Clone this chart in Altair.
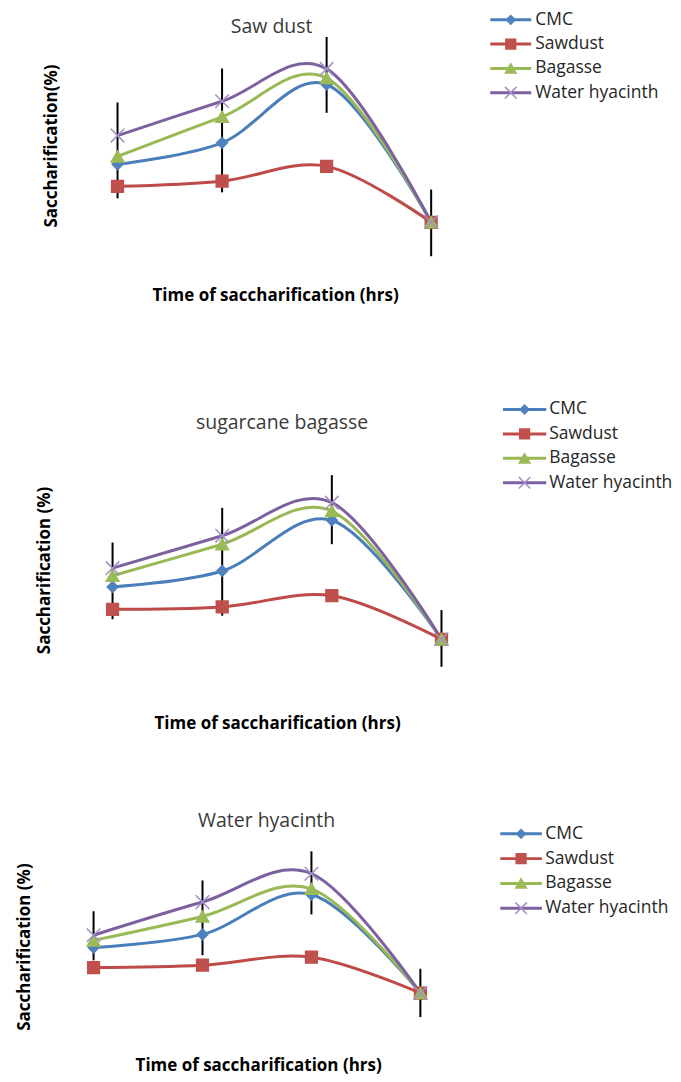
import altair as alt
import pandas as pd

FONT = "Open Sans"

SERIES = ["CMC", "Sawdust", "Bagasse", "Water hyacinth"]
LEGEND_ROWS = [0, 1, 2, 3]
LINE_COLORS = ["#4A7EBB", "#BE4B48", "#98B954", "#7D60A0"]
MARKER_FILLS = ["#4F81BD", "#C0504D", "#9BBB59", "#8064A2"]
MARKER_STROKES = ["#4F81BD", "#C0504D", "#9BBB59", "#A28FC7"]
X_MARK = "M-1,-1L1,1M-1,1L1,-1"
MARKER_SHAPES = ["diamond", "square", "triangle-up", X_MARK]
MARKER_SIZES = [115, 185, 135, 150]
LEGEND_SIZES = [75, 135, 100, 125]
SAMPLING_POINTS = [1, 2, 3, 4]

PANEL_TITLES = ["Saw dust", "sugarcane bagasse", "Water hyacinth"]
Y_TITLES = ["Saccharification(%)", "Saccharification (%)", "Saccharification (%)"]
X_TITLE = "Time of saccharification (hrs)"

# Panel 1: Saw dust
saw_cmc = [26.3, 31.7, 46.3, 11.8]
saw_sawdust = [20.8, 22.1, 25.8, 11.8]
saw_bagasse = [28.3, 38.2, 47.9, 11.8]
saw_hyacinth = [33.5, 42.1, 50.2, 11.8]
saw_err_low = [17.8, 19.3, 39.2, 3.3]
saw_err_high = [41.8, 50.3, 58.2, 20.0]

# Panel 2: sugarcane bagasse
bag_cmc = [21.0, 25.0, 37.7, 7.9]
bag_sawdust = [15.4, 16.0, 18.8, 7.9]
bag_bagasse = [23.8, 31.7, 40.0, 7.9]
bag_hyacinth = [25.7, 33.8, 42.1, 7.9]
bag_err_low = [12.9, 13.8, 31.7, 1.0]
bag_err_high = [32.1, 40.8, 49.0, 15.2]

# Panel 3: Water hyacinth
wh_cmc = [23.2, 26.5, 36.5, 11.8]
wh_sawdust = [18.2, 18.8, 20.8, 11.8]
wh_bagasse = [25.0, 31.0, 37.9, 11.8]
wh_hyacinth = [26.3, 34.6, 41.7, 11.8]
wh_err_low = [20.0, 21.3, 31.5, 5.8]
wh_err_high = [32.3, 40.0, 47.3, 17.9]

PLOT_W = 420


def text_layer(label, pos, size, weight="normal", angle=0, color="#000000"):
    return alt.Chart(pd.DataFrame({"label": [label]})).mark_text(
        align="center", baseline="middle", font=FONT, fontSize=size,
        fontWeight=weight, angle=angle, color=color).encode(
        x=alt.value(pos[0]), y=alt.value(pos[1]), text="label:N")


def build_panel(title, ytitle, values, err_low, err_high, xdomain, ydomain, height,
                title_pos, ytitle_pos, xtitle_pos, legend_x, legend_text_x, legend_rows):
    rows = []
    for s, vals in zip(SERIES, values):
        for t, v in zip(SAMPLING_POINTS, vals):
            rows.append({"Sampling point": t, "Series": s, "Saccharification": v})
    df = pd.DataFrame(rows)
    err = pd.DataFrame({"Sampling point": SAMPLING_POINTS, "low": err_low, "high": err_high})

    xs = alt.Scale(domain=xdomain, nice=False, zero=False)
    ys = alt.Scale(domain=ydomain, nice=False, zero=False)

    color = alt.Color("Series:N", scale=alt.Scale(domain=SERIES, range=LINE_COLORS), legend=None)
    fill = alt.Fill("Series:N", scale=alt.Scale(domain=SERIES, range=MARKER_FILLS), legend=None)
    stroke = alt.Stroke("Series:N", scale=alt.Scale(domain=SERIES, range=MARKER_STROKES), legend=None)
    shape = alt.Shape("Series:N", scale=alt.Scale(domain=SERIES, range=MARKER_SHAPES), legend=None)

    errbars = alt.Chart(err).mark_rule(color="#000000", strokeWidth=2).encode(
        x=alt.X("Sampling point:Q", scale=xs, axis=None),
        y=alt.Y("low:Q", scale=ys, axis=None),
        y2="high:Q",
    )
    lines = alt.Chart(df).mark_line(interpolate="cardinal", strokeWidth=3).encode(
        x=alt.X("Sampling point:Q", scale=xs, axis=None),
        y=alt.Y("Saccharification:Q", scale=ys, axis=None),
        color=color,
    )
    points = alt.Chart(df).mark_point(filled=True, opacity=1, strokeWidth=1.5).encode(
        x=alt.X("Sampling point:Q", scale=xs, axis=None),
        y=alt.Y("Saccharification:Q", scale=ys, axis=None),
        fill=fill,
        stroke=stroke,
        shape=shape,
        size=alt.Size("Series:N", scale=alt.Scale(domain=SERIES, range=MARKER_SIZES), legend=None),
    )
    data_layer = alt.layer(errbars, lines, points)

    leg = pd.DataFrame({"Series": SERIES, "Row": LEGEND_ROWS})
    ly = alt.Y("Row:Q", scale=alt.Scale(domain=[0, 3], range=legend_rows, nice=False, zero=False),
               axis=None)
    leg_rule = alt.Chart(leg).mark_rule(strokeWidth=3).encode(
        x=alt.value(legend_x[0]), x2=alt.value(legend_x[1]), y=ly, color=color)
    leg_pts = alt.Chart(leg).mark_point(filled=True, opacity=1, strokeWidth=1.5).encode(
        x=alt.value((legend_x[0] + legend_x[1]) / 2), y=ly, fill=fill, stroke=stroke, shape=shape,
        size=alt.Size("Series:N", scale=alt.Scale(domain=SERIES, range=LEGEND_SIZES), legend=None))
    leg_text = alt.Chart(leg).mark_text(align="left", baseline="middle", font=FONT,
                                        fontSize=17.5, color="#262626").encode(
        x=alt.value(legend_text_x), y=ly, text="Series:N")
    ttl = text_layer(title, title_pos, 19.5, color="#3a3a3a")
    ytl = text_layer(ytitle, ytitle_pos, 17, weight="bold", angle=270)
    xtl = text_layer(X_TITLE, xtitle_pos, 17, weight="bold")
    legend_layer = alt.layer(leg_rule, leg_pts, leg_text, ttl, ytl, xtl)

    return alt.layer(data_layer, legend_layer).resolve_scale(
        y="independent", size="independent").properties(width=PLOT_W, height=height)


p1 = build_panel(PANEL_TITLES[0], Y_TITLES[0],
                 [saw_cmc, saw_sawdust, saw_bagasse, saw_hyacinth], saw_err_low, saw_err_high,
                 [0.4585, 4.470], [-0.5, 59.5], 240,
                 (211, -5), (-8.5, 114.5), (215, 265), (430, 471), 475, [-12, 61])
p2 = build_panel(PANEL_TITLES[1], Y_TITLES[1],
                 [bag_cmc, bag_sawdust, bag_bagasse, bag_hyacinth], bag_err_low, bag_err_high,
                 [0.5291, 4.354], [0, 60], 240,
                 (221.5, -8.3), (-16.3, 139.5), (217, 293.3), (442.7, 486), 489, [-21.7, 51.7])
p3 = build_panel(PANEL_TITLES[2], Y_TITLES[2],
                 [wh_cmc, wh_sawdust, wh_bagasse, wh_hyacinth], wh_err_low, wh_err_high,
                 [0.7003, 4.550], [0, 52.5], 210,
                 (206, -9.3), (-36, 116.7), (198, 236), (440, 481.7), 485, [3.3, 77.7])

chart = alt.vconcat(p1, p2, p3, spacing=160, bounds="flush").properties(
    padding={"left": 7, "top": 1, "right": 0, "bottom": 0}
).configure_view(stroke="transparent")

chart.save("out.html", embed_options={"renderer": "svg", "actions": False})
